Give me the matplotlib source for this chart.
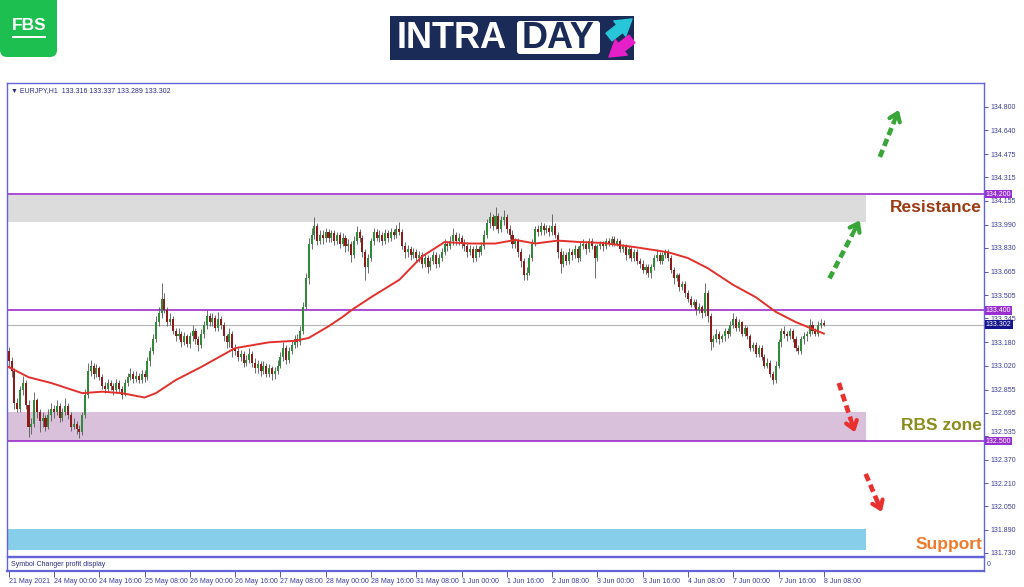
import numpy as np
import matplotlib.pyplot as plt
from matplotlib.patches import Rectangle, FancyBboxPatch

plt.rcParams['font.family'] = ['Liberation Sans', 'DejaVu Sans']

#EURJPY H1 candles, 21 May 2021 08:00 -> 8 Jun 2021 08:00 (one row = 16 hourly bars)
closes = [
    133.05, 132.98, 132.76, 132.72, 132.85, 132.90, 132.75, 132.60, 132.62, 132.78, 132.70, 132.64, 132.66, 132.60, 132.68, 132.72,
    132.70, 132.74, 132.66, 132.70, 132.74, 132.68, 132.60, 132.62, 132.58, 132.56, 132.68, 132.82, 132.98, 133.02, 132.96, 133.00,
    132.94, 132.88, 132.86, 132.90, 132.88, 132.85, 132.90, 132.86, 132.82, 132.90, 132.94, 132.96, 132.93, 132.95, 132.92, 132.96,
    132.94, 133.05, 133.12, 133.20, 133.32, 133.38, 133.48, 133.40, 133.32, 133.34, 133.26, 133.22, 133.24, 133.18, 133.22, 133.17,
    133.22, 133.26, 133.20, 133.16, 133.24, 133.30, 133.36, 133.32, 133.35, 133.28, 133.34, 133.30, 133.22, 133.18, 133.24, 133.14,
    133.12, 133.08, 133.10, 133.04, 133.06, 133.10, 133.04, 133.00, 133.03, 132.98, 133.02, 132.96, 133.00, 132.96, 132.98, 133.02,
    133.08, 133.14, 133.06, 133.12, 133.16, 133.20, 133.18, 133.26, 133.42, 133.62, 133.86, 133.92, 133.98, 133.88, 133.92, 133.90,
    133.94, 133.90, 133.93, 133.88, 133.92, 133.86, 133.90, 133.84, 133.86, 133.78, 133.88, 133.94, 133.90, 133.80, 133.70, 133.76,
    133.88, 133.94, 133.90, 133.92, 133.88, 133.93, 133.90, 133.94, 133.92, 133.96, 133.94, 133.84, 133.80, 133.82, 133.78, 133.80,
    133.76, 133.78, 133.72, 133.76, 133.70, 133.74, 133.78, 133.72, 133.76, 133.80, 133.86, 133.84, 133.88, 133.92, 133.88, 133.90,
    133.86, 133.84, 133.80, 133.82, 133.76, 133.82, 133.80, 133.84, 133.92, 134.00, 134.04, 133.98, 134.05, 133.96, 134.02, 134.04,
    133.96, 133.92, 133.86, 133.88, 133.80, 133.74, 133.64, 133.66, 133.76, 133.86, 133.96, 133.94, 133.98, 133.95, 133.97, 133.94,
    133.98, 133.92, 133.80, 133.72, 133.78, 133.74, 133.80, 133.78, 133.82, 133.76, 133.84, 133.86, 133.82, 133.88, 133.84, 133.76,
    133.84, 133.86, 133.84, 133.88, 133.86, 133.89, 133.86, 133.88, 133.82, 133.84, 133.78, 133.82, 133.76, 133.80, 133.74, 133.72,
    133.68, 133.70, 133.66, 133.70, 133.76, 133.78, 133.74, 133.78, 133.80, 133.76, 133.68, 133.62, 133.64, 133.56, 133.58, 133.52,
    133.48, 133.44, 133.46, 133.40, 133.42, 133.38, 133.52, 133.36, 133.18, 133.20, 133.24, 133.20, 133.22, 133.26, 133.24, 133.30,
    133.34, 133.28, 133.32, 133.24, 133.28, 133.22, 133.14, 133.16, 133.10, 133.14, 133.08, 133.02, 133.04, 132.96, 132.92, 133.02,
    133.18, 133.26, 133.24, 133.22, 133.26, 133.20, 133.14, 133.12, 133.20, 133.22, 133.24, 133.30, 133.26, 133.24, 133.30, 133.316,
    133.302,
]
highs = [
    133.15, 133.08, 133.00, 132.80, 132.88, 132.95, 132.92, 132.78, 132.66, 132.84, 132.80, 132.72, 132.70, 132.68, 132.72, 132.76,
    132.75, 132.78, 132.76, 132.73, 132.80, 132.76, 132.70, 132.66, 132.64, 132.61, 132.70, 132.86, 133.04, 133.06, 133.04, 133.03,
    133.02, 132.96, 132.91, 132.93, 132.92, 132.90, 132.93, 132.92, 132.88, 132.93, 132.97, 133.00, 132.98, 132.98, 132.97, 132.99,
    132.99, 133.08, 133.15, 133.24, 133.36, 133.42, 133.59, 133.52, 133.42, 133.38, 133.36, 133.28, 133.28, 133.26, 133.25, 133.24,
    133.25, 133.30, 133.28, 133.22, 133.27, 133.33, 133.40, 133.38, 133.38, 133.37, 133.39, 133.36, 133.32, 133.24, 133.28, 133.26,
    133.17, 133.15, 133.13, 133.12, 133.09, 133.14, 133.12, 133.07, 133.06, 133.05, 133.05, 133.04, 133.03, 133.02, 133.01, 133.06,
    133.11, 133.18, 133.16, 133.15, 133.19, 133.23, 133.24, 133.29, 133.46, 133.66, 133.90, 133.97, 134.04, 134.00, 133.95, 133.95,
    133.97, 133.96, 133.95, 133.95, 133.94, 133.94, 133.93, 133.92, 133.89, 133.88, 133.91, 133.98, 133.96, 133.92, 133.82, 133.79,
    133.90, 133.97, 133.96, 133.95, 133.94, 133.96, 133.95, 133.97, 133.96, 133.99, 134.01, 133.96, 133.87, 133.85, 133.84, 133.83,
    133.82, 133.81, 133.80, 133.79, 133.78, 133.77, 133.81, 133.80, 133.79, 133.83, 133.89, 133.88, 133.91, 133.97, 133.94, 133.93,
    133.92, 133.89, 133.87, 133.85, 133.84, 133.85, 133.84, 133.87, 133.95, 134.03, 134.08, 134.06, 134.11, 134.07, 134.05, 134.09,
    134.06, 133.99, 133.95, 133.90, 133.90, 133.83, 133.76, 133.70, 133.79, 133.89, 133.98, 133.99, 134.01, 134.00, 133.99, 133.99,
    134.06, 134.00, 133.94, 133.83, 133.81, 133.80, 133.83, 133.82, 133.85, 133.84, 133.87, 133.89, 133.88, 133.90, 133.90, 133.86,
    133.86, 133.88, 133.88, 133.90, 133.90, 133.91, 133.91, 133.90, 133.89, 133.86, 133.86, 133.84, 133.84, 133.82, 133.82, 133.76,
    133.75, 133.72, 133.72, 133.72, 133.78, 133.82, 133.80, 133.80, 133.82, 133.82, 133.78, 133.70, 133.66, 133.66, 133.60, 133.60,
    133.54, 133.50, 133.48, 133.48, 133.45, 133.44, 133.59, 133.54, 133.38, 133.23, 133.27, 133.26, 133.24, 133.28, 133.28, 133.33,
    133.38, 133.36, 133.34, 133.33, 133.30, 133.29, 133.24, 133.18, 133.18, 133.16, 133.16, 133.10, 133.07, 133.06, 132.98, 133.05,
    133.20, 133.28, 133.29, 133.26, 133.28, 133.27, 133.22, 133.16, 133.22, 133.25, 133.26, 133.34, 133.33, 133.28, 133.33, 133.34,
    133.337,
]
lows = [
    133.00, 132.94, 132.72, 132.70, 132.70, 132.82, 132.72, 132.53, 132.55, 132.60, 132.66, 132.56, 132.60, 132.57, 132.58, 132.64,
    132.66, 132.68, 132.63, 132.64, 132.68, 132.65, 132.57, 132.58, 132.55, 132.52, 132.54, 132.66, 132.80, 132.95, 132.93, 132.94,
    132.92, 132.86, 132.83, 132.84, 132.85, 132.82, 132.83, 132.84, 132.79, 132.81, 132.88, 132.92, 132.90, 132.91, 132.90, 132.90,
    132.91, 132.92, 133.02, 133.10, 133.18, 133.29, 133.35, 133.38, 133.29, 133.30, 133.24, 133.19, 133.20, 133.15, 133.16, 133.15,
    133.14, 133.19, 133.17, 133.12, 133.14, 133.21, 133.27, 133.29, 133.29, 133.26, 133.26, 133.27, 133.19, 133.14, 133.15, 133.08,
    133.09, 133.05, 133.05, 133.01, 133.02, 133.04, 133.01, 132.97, 132.97, 132.95, 132.96, 132.94, 132.94, 132.92, 132.93, 132.96,
    133.00, 133.05, 133.03, 133.04, 133.10, 133.14, 133.15, 133.16, 133.24, 133.40, 133.58, 133.82, 133.89, 133.85, 133.86, 133.86,
    133.87, 133.87, 133.87, 133.85, 133.86, 133.83, 133.84, 133.80, 133.81, 133.73, 133.76, 133.86, 133.87, 133.77, 133.61, 133.66,
    133.74, 133.85, 133.88, 133.87, 133.85, 133.86, 133.87, 133.88, 133.89, 133.90, 133.92, 133.82, 133.76, 133.77, 133.75, 133.76,
    133.73, 133.73, 133.69, 133.70, 133.66, 133.68, 133.72, 133.69, 133.70, 133.74, 133.78, 133.81, 133.82, 133.85, 133.85, 133.85,
    133.83, 133.81, 133.77, 133.78, 133.73, 133.74, 133.77, 133.78, 133.82, 133.90, 133.97, 133.95, 133.96, 133.93, 133.94, 133.99,
    133.93, 133.89, 133.83, 133.83, 133.77, 133.70, 133.61, 133.61, 133.64, 133.74, 133.84, 133.91, 133.92, 133.92, 133.93, 133.91,
    133.92, 133.90, 133.76, 133.66, 133.70, 133.71, 133.72, 133.75, 133.76, 133.73, 133.74, 133.82, 133.79, 133.80, 133.82, 133.62,
    133.74, 133.82, 133.81, 133.82, 133.84, 133.84, 133.84, 133.84, 133.80, 133.80, 133.75, 133.76, 133.74, 133.74, 133.72, 133.69,
    133.66, 133.65, 133.63, 133.62, 133.68, 133.74, 133.72, 133.72, 133.76, 133.74, 133.66, 133.58, 133.60, 133.53, 133.54, 133.49,
    133.46, 133.42, 133.42, 133.37, 133.38, 133.35, 133.36, 133.32, 133.13, 133.15, 133.18, 133.17, 133.18, 133.19, 133.21, 133.22,
    133.28, 133.26, 133.26, 133.22, 133.22, 133.20, 133.12, 133.12, 133.08, 133.08, 133.06, 133.00, 133.00, 132.94, 132.89, 132.90,
    133.00, 133.15, 133.21, 133.19, 133.20, 133.18, 133.12, 133.10, 133.10, 133.17, 133.19, 133.22, 133.24, 133.22, 133.22, 133.28,
    133.289,
]
first_open = 133.12
opens = [first_open] + closes[:-1]   #H1 forex bars open at the previous close

#red moving average (bar index, price)
ma_bars = [0, 7, 15, 26, 33, 40, 48, 52, 59, 68, 80, 92, 101, 106, 113, 118, 121, 128, 138, 146,
           154, 163, 172, 179, 186, 194, 202, 210, 221, 233, 240, 247, 256, 264, 271, 278, 283, 288]
ma_values = [133.01, 132.94, 132.90, 132.83, 132.84, 132.83, 132.80, 132.83, 132.92, 133.01, 133.14, 133.18,
             133.19, 133.21, 133.29, 133.355, 133.40, 133.49, 133.61, 133.77, 133.87, 133.86, 133.86, 133.885,
             133.86, 133.88, 133.87, 133.864, 133.836, 133.80, 133.76, 133.69, 133.575, 133.49, 133.39, 133.32,
             133.28, 133.24]

price_ticks = [134.800, 134.640, 134.475, 134.315, 134.155, 133.990, 133.830, 133.665, 133.505, 133.345,
               133.180, 133.020, 132.855, 132.695, 132.535, 132.370, 132.210, 132.050, 131.890, 131.730]
time_labels = ["21 May 2021", "24 May 00:00", "24 May 16:00", "25 May 08:00", "26 May 00:00", "26 May 16:00",
               "27 May 08:00", "28 May 00:00", "28 May 16:00", "31 May 08:00", "1 Jun 00:00", "1 Jun 16:00",
               "2 Jun 08:00", "3 Jun 00:00", "3 Jun 16:00", "4 Jun 08:00", "7 Jun 00:00", "7 Jun 16:00", "8 Jun 08:00"]
bars_per_label = 16

level_prices = [134.200, 133.400, 132.500]
last_price = 133.302
header = "\u25bc EURJPY,H1  133.316 133.337 133.289 133.302"

zone_names = ["Resistance", "RBS zone", "Support"]
zone_bottoms = [134.008, 132.500, 131.751]
zone_tops = [134.194, 132.700, 131.895]
zone_end = 302.8

W, H = 1024, 587
frame_col = '#6464d8'
scale_col = '#3c3c9c'

fig = plt.figure(figsize=(W / 100, H / 100), dpi=100)
fig.patch.set_facecolor('white')

#logos layer in pixel coordinates
lay = fig.add_axes([0, 0, 1, 1])
lay.set_xlim(0, W)
lay.set_ylim(H, 0)
lay.axis('off')
lay.add_patch(FancyBboxPatch((0, -12), 57, 69, boxstyle='round,pad=0,rounding_size=7', fc='#1cbf50', ec='none'))
lay.text(29, 26, 'FBS', color='white', fontsize=12.5, fontweight='bold', ha='center', va='center')
lay.add_patch(Rectangle((12, 35.5), 34, 2.5, fc='white', ec='none'))
lay.add_patch(Rectangle((390, 16), 244, 44, fc='#1b2b58', ec='none'))
lay.text(397, 38.5, 'INTRA', color='white', fontsize=26, fontweight='bold', ha='left', va='center')
lay.add_patch(FancyBboxPatch((517, 21), 83, 33, boxstyle='round,pad=0,rounding_size=3', fc='white', ec='none'))
lay.text(558.5, 38.5, 'DAY', color='#1b2b58', fontsize=26, fontweight='bold', ha='center', va='center')
lay.annotate('', xy=(632, 19), xytext=(609, 37),
             arrowprops=dict(arrowstyle='simple,head_width=1.0,head_length=0.8,tail_width=0.5',
                             color='#27c6d9', mutation_scale=14, shrinkA=0, shrinkB=0))
lay.annotate('', xy=(609, 57), xytext=(632, 39),
             arrowprops=dict(arrowstyle='simple,head_width=1.0,head_length=0.8,tail_width=0.5',
                             color='#e620c8', mutation_scale=14, shrinkA=0, shrinkB=0))

#main price panel
ax = fig.add_axes([7 / W, 1 - 556 / H, 977 / W, 473 / H])
ax.set_xlim(-0.6, 344.6)
ax.set_ylim(131.709, 134.965)
for s in ax.spines.values():
    s.set_color(frame_col)
    s.set_linewidth(1)

zone_colors = ['#dcdcdc', '#d9c1db', '#87ceeb']
for lo_p, hi_p, col in zip(zone_bottoms, zone_tops, zone_colors):
    ax.add_patch(Rectangle((-0.6, lo_p), zone_end + 0.6, hi_p - lo_p, fc=col, ec='none', zorder=1))

for p in level_prices:
    ax.axhline(p, color='#a02ccc', lw=1.2, zorder=2)
ax.axhline(last_price, color='#b4b4b4', lw=0.8, zorder=2)

#candles
o = np.array(opens)
c = np.array(closes)
x = np.arange(len(c))
body_col = np.where(c >= o, '#2f8a3a', '#8c1c1c')
ax.vlines(x, lows, highs, colors='#555555', lw=0.6, zorder=3)
ax.bar(x, np.maximum(np.abs(c - o), 0.006), bottom=np.minimum(o, c), width=0.72,
       color=body_col, zorder=4)

ax.plot(ma_bars, ma_values, color='#e2312d', lw=1.4, zorder=5)

#forecast arrows: (tail, head, colour)
arrows = [((290, 133.62), (300.7, 134.02), '#3aa63a'),
          ((307.8, 134.456), (314.5, 134.78), '#3aa63a'),
          ((293.3, 132.90), (299.0, 132.56), '#e8312f'),
          ((302.8, 132.274), (308.5, 132.012), '#e8312f')]
for (x0, y0), (x1, y1), col in arrows:
    xm, ym = x1 - 0.25 * (x1 - x0), y1 - 0.25 * (y1 - y0)
    ax.plot([x0, xm], [y0, ym], color=col, lw=3.4, ls=(0, (1.6, 0.9)), solid_capstyle='butt', zorder=6)
    ax.annotate('', xy=(x1, y1), xytext=(xm, ym),
                arrowprops=dict(arrowstyle='->,head_length=0.55,head_width=0.4', color=col, lw=3.0,
                                shrinkA=0, shrinkB=0), zorder=6)

zone_label_y = [134.105, 132.604, 131.79]
zone_label_col = ['#9c3a14', '#8a8c1c', '#f07a2c']
for name, yy, col in zip(zone_names, zone_label_y, zone_label_col):
    ax.text(0.998, yy, name, transform=ax.get_yaxis_transform(), ha='right', va='center',
            fontsize=12.5, fontweight='bold', color=col, zorder=7)

ax.text(0.004, 0.992, header, transform=ax.transAxes, ha='left', va='top', fontsize=5, color='#2a2a80')

#right price scale
ax.set_xticks([])
ax.yaxis.tick_right()
ax.set_yticks(price_ticks)
ax.set_yticklabels([f'{p:.3f}' for p in price_ticks])
ax.tick_params(axis='y', labelsize=5, colors=scale_col, length=3, width=0.6, pad=2)
#tick label squeezed just above the 132.500 marker, as in the terminal
for lbl in ax.get_yticklabels():
    if lbl.get_text() == '132.535':
        lbl.set_va('bottom')
for p in level_prices:
    ax.text(1.002, p, f'{p:.3f}', transform=ax.get_yaxis_transform(), fontsize=5, color='white',
            ha='left', va='center', clip_on=False, zorder=10,
            bbox=dict(boxstyle='square,pad=0.12', fc='#9a2fd0', ec='none'))
ax.text(1.002, last_price, f'{last_price:.3f}', transform=ax.get_yaxis_transform(), fontsize=5,
        color='white', ha='left', va='center', clip_on=False, zorder=10,
        bbox=dict(boxstyle='square,pad=0.12', fc='#14148c', ec='none'))

#indicator strip + time scale
tax = fig.add_axes([7 / W, 1 - 571 / H, 977 / W, 14 / H])
tax.set_xlim(ax.get_xlim())
tax.set_ylim(0, 1)
tax.set_yticks([])
for s in tax.spines.values():
    s.set_color(frame_col)
    s.set_linewidth(1)
tax.spines['bottom'].set_linewidth(1.6)
tax.set_xticks(np.arange(len(time_labels)) * bars_per_label)
tax.set_xticklabels(time_labels, ha='left')
tax.tick_params(axis='x', labelsize=5, colors=scale_col, length=4, width=0.6, pad=1)
tax.text(0.004, 0.5, 'Symbol Changer profit display', transform=tax.transAxes, ha='left', va='center',
         fontsize=5, color='#2a2a80')
tax.text(1.003, 0.5, '0', transform=tax.transAxes, ha='left', va='center', fontsize=5, color=scale_col)

fig.savefig('out.png', dpi=100)
